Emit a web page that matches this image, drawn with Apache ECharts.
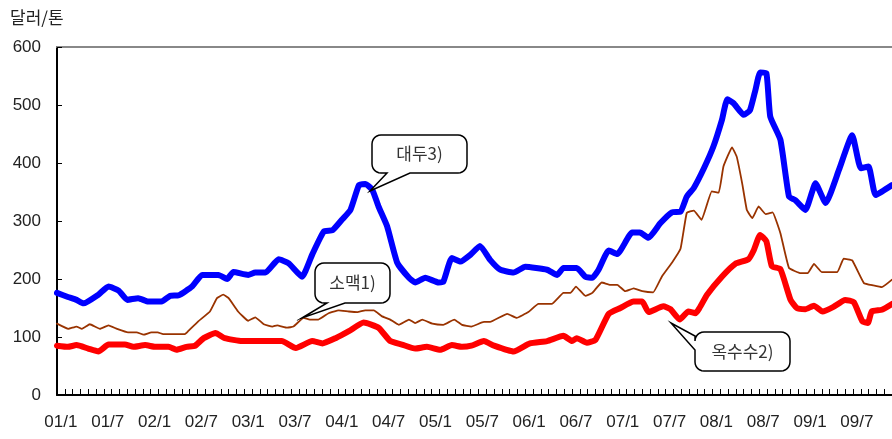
<!DOCTYPE html>
<html>
<head>
<meta charset="utf-8">
<script src="https://cdn.jsdelivr.net/npm/echarts@6/dist/echarts.min.js"></script>
<style>
html,body{margin:0;padding:0;background:#fff;}
#chart{width:892px;height:439px;}
</style>
</head>
<body>
<div id="chart"></div>
<script>
// x = months since Jan 2001, y = USD/ton
const tickLabels = ['01/1','01/7','02/1','02/7','03/1','03/7','04/1','04/7','05/1','05/7','06/1','06/7','07/1','07/7','08/1','08/7','09/1','09/7'];
const monthCount = 107;
const yTicks = [0, 100, 200, 300, 400, 500, 600];

const soybean = [[0,176],[1.4,169],[2.5,164],[3.4,158],[5.3,173],[6.6,187],[7.9,180],[9.0,164],[10.4,167],[11.7,161],[13.4,161],[14.5,171],[15.6,172],[17.3,187],[18.6,207],[20.7,207],[21.8,200],[22.6,212],[24.5,207],[25.4,211],[26.7,211],[28.4,234],[29.7,227],[31.4,204],[32.7,242],[34.2,282],[35.3,284],[36.5,302],[37.6,319],[38.7,362],[39.5,364],[40.4,354],[41.2,325],[42.3,291],[43.6,228],[45.1,202],[45.9,194],[47.2,202],[48.9,194],[49.5,195],[50.6,236],[51.7,230],[53.0,242],[54.2,257],[55.5,233],[56.8,216],[58.5,211],[60.0,221],[62.8,216],[64.1,207],[64.9,219],[66.6,219],[67.7,204],[68.6,202],[69.4,216],[70.7,249],[71.8,243],[73.7,280],[74.7,280],[75.8,271],[77.3,296],[78.8,315],[79.9,316],[80.7,342],[81.6,357],[82.9,391],[84.1,428],[85.2,474],[85.9,510],[86.7,503],[88.0,483],[88.8,491],[89.5,526],[90.1,556],[90.9,555],[91.4,480],[92.7,440],[93.8,342],[94.6,336],[95.9,319],[97.2,365],[98.5,331],[100.2,388],[101.9,448],[103.0,391],[104.0,394],[104.9,345],[107.0,362]];

const wheat = [[0,123],[1.45,114],[2.5,118],[3.2,114],[4.2,122],[5.5,114],[6.6,120],[7.7,114],[9.1,108],[10.2,108],[11.1,104],[12.1,108],[12.9,108],[13.6,105],[16.4,105],[16.8,110],[18.1,127],[19.6,144],[20.5,167],[21.3,173],[22.0,167],[23.2,144],[24.5,128],[25.4,134],[26.5,122],[27.6,118],[28.2,120],[29.5,116],[30.3,118],[31.6,133],[32.4,130],[33.5,130],[34.8,141],[36.1,146],[37.4,144],[38.5,143],[39.5,146],[40.6,146],[41.6,136],[42.7,130],[43.8,121],[45.1,130],[45.9,124],[46.8,130],[48.1,123],[49.5,121],[50.9,130],[51.9,121],[53.1,118],[54.7,126],[55.5,126],[57.7,140],[58.9,133],[60.4,143],[61.7,157],[63.4,157],[64.9,176],[65.8,176],[66.5,187],[67.7,171],[68.6,176],[69.8,194],[70.9,190],[71.8,190],[72.8,179],[73.9,184],[75.0,179],[76.4,177],[77.5,204],[78.8,228],[79.9,252],[80.7,314],[81.6,318],[82.6,302],[83.9,351],[84.8,349],[85.4,394],[86.5,427],[87.1,411],[87.8,365],[88.4,319],[89.1,305],[89.9,325],[90.8,312],[91.7,315],[92.7,279],[93.8,219],[95.3,210],[96.2,210],[97.0,226],[98.0,212],[100.0,212],[100.8,235],[101.9,232],[103.4,193],[104.6,189],[105.7,186],[107.0,199]];

const corn = [[0,85],[1.4,83],[2.5,86],[4.0,80],[5.3,75],[6.6,87],[8.7,87],[9.8,83],[11.3,86],[12.6,83],[14.3,83],[15.3,78],[16.6,83],[17.7,85],[18.8,98],[20.3,107],[21.5,98],[23.7,93],[26.5,93],[28.8,93],[30.6,81],[32.7,93],[34.0,89],[35.7,98],[37.4,110],[39.3,125],[41.2,116],[42.7,93],[44.2,87],[45.9,80],[47.4,83],[49.1,78],[50.6,86],[51.9,83],[53.1,85],[54.7,93],[56.0,85],[58.5,75],[60.6,89],[62.8,93],[64.9,102],[66.0,93],[66.6,98],[67.9,90],[69.0,95],[70.7,140],[72.2,150],[73.9,161],[75.0,161],[75.8,143],[77.7,153],[78.6,148],[79.8,130],[80.9,144],[81.8,141],[83.3,173],[85.2,204],[86.9,226],[88.6,234],[89.3,250],[90.1,276],[90.9,265],[91.6,222],[92.7,217],[94.0,164],[94.8,150],[95.9,148],[97.0,154],[98.1,144],[99.5,152],[101.0,164],[102.1,160],[103.2,127],[103.9,124],[104.4,144],[105.7,147],[107.0,157]];

const seriesNames = ['대두3)', '소맥1)', '옥수수2)'];
const unitLabel = '달러/톤';

const categories = Array.from({length: monthCount}, (_, i) => (i % 6 === 0 ? (tickLabels[i / 6] || '') : ''));

const FONT = "'Liberation Sans', Arial, 'Noto Sans CJK KR', sans-serif";
const KFONT = "'Noto Sans CJK KR', 'Liberation Sans', sans-serif";

function arcPts(cx, cy, r, a0, a1, pts) {
  const n = 6;
  for (let i = 0; i <= n; i++) {
    const t = (a0 + (a1 - a0) * i / n) * Math.PI / 180;
    pts.push([cx + r * Math.cos(t), cy + r * Math.sin(t)]);
  }
}
function calloutPoints(x0, y0, x1, y1, r, ptr) {
  const p = [];
  arcPts(x1 - r, y0 + r, r, -90, 0, p);
  arcPts(x1 - r, y1 - r, r, 0, 90, p);
  if (ptr.edge === 'bottom') { p.push([ptr.b, y1], ptr.tip, [ptr.a, y1]); }
  arcPts(x0 + r, y1 - r, r, 90, 180, p);
  if (ptr.edge === 'left') { p.push([x0, ptr.b], ptr.tip, [x0, ptr.a]); }
  arcPts(x0 + r, y0 + r, r, 180, 270, p);
  return p;
}
function callout(text, x0, y0, x1, y1, ptr) {
  return {
    type: 'group', z: 100,
    children: [
      { type: 'polygon', shape: { points: calloutPoints(x0, y0, x1, y1, 9, ptr) },
        style: { fill: '#fff', stroke: '#000', lineWidth: 1.5 }, z: 100 },
      { type: 'text', x: (x0 + x1) / 2, y: (y0 + y1) / 2, z: 101,
        style: { text: text, font: "17px " + KFONT, fill: '#333', align: 'center', verticalAlign: 'middle' } }
    ]
  };
}

const chart = echarts.init(document.getElementById('chart'), null, { renderer: 'canvas' });
chart.setOption({
  animation: false,
  backgroundColor: '#fff',
  title: { text: unitLabel, left: 5, top: 4, textStyle: { fontSize: 17, fontWeight: 'normal', color: '#222', fontFamily: KFONT } },
  grid: { left: 57, right: 0, top: 47, bottom: 44, containLabel: false },
  xAxis: [
    { type: 'category', data: categories, boundaryGap: true, position: 'bottom',
      axisLine: { show: true, lineStyle: { color: '#000', width: 2 } },
      axisTick: { show: true, inside: true, length: 6, interval: 0, lineStyle: { color: '#000', width: 1 } },
      axisLabel: { interval: 0, margin: 19, fontSize: 17, color: '#222', fontFamily: FONT },
      splitLine: { show: false } },
    { type: 'value', min: 0, max: monthCount, show: false, splitLine: { show: false } },
    { type: 'value', min: 0, max: monthCount, position: 'top', gridIndex: 0,
      axisLine: { show: true, onZero: false, lineStyle: { color: '#888', width: 2 } },
      axisTick: { show: false }, axisLabel: { show: false }, splitLine: { show: false } }
  ],
  yAxis: {
    type: 'value', min: yTicks[0], max: yTicks[yTicks.length - 1], interval: 100,
    axisLine: { show: true, lineStyle: { color: '#000', width: 2 } },
    axisTick: { show: true, inside: true, length: 5, lineStyle: { color: '#000', width: 1 } },
    axisLabel: { margin: 16, fontSize: 17, color: '#222', fontFamily: FONT },
    splitLine: { show: false }
  },
  series: [
    { name: seriesNames[0], type: 'line', xAxisIndex: 1, data: soybean, showSymbol: false, symbol: 'none', smooth: 0.15,
      lineStyle: { color: '#0000ff', width: 6, cap: 'round', join: 'round' } },
    { name: seriesNames[1], type: 'line', xAxisIndex: 1, data: wheat, showSymbol: false, symbol: 'none', smooth: 0.1,
      lineStyle: { color: '#993300', width: 1.8, cap: 'round', join: 'round' } },
    { name: seriesNames[2], type: 'line', xAxisIndex: 1, data: corn, showSymbol: false, symbol: 'none', smooth: 0.15,
      lineStyle: { color: '#ff0000', width: 6, cap: 'round', join: 'round' } }
  ],
  graphic: [
    callout(seriesNames[0], 372, 135, 467, 173, { edge: 'bottom', a: 387, b: 410, tip: [370, 191] }),
    callout(seriesNames[1], 315, 263, 390, 303, { edge: 'bottom', a: 327, b: 345, tip: [302, 318] }),
    callout(seriesNames[2], 695, 332, 790, 371, { edge: 'left', a: 336, b: 350, tip: [671, 323] })
  ]
});
</script>
</body>
</html>
